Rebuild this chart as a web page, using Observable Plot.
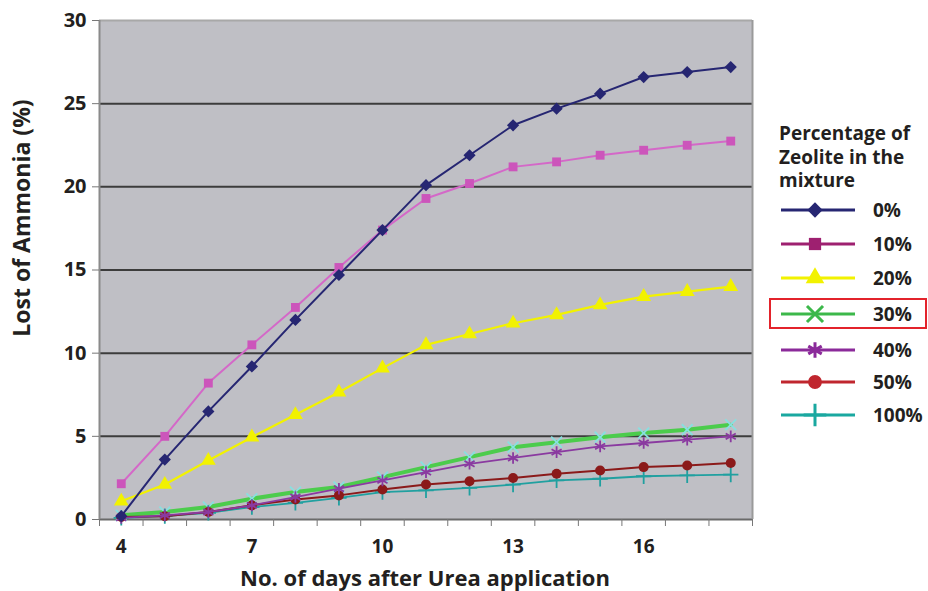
<!DOCTYPE html>
<html><head><meta charset="utf-8">
<script src="https://cdn.jsdelivr.net/npm/d3@7"></script>
<script src="https://cdn.jsdelivr.net/npm/@observablehq/plot@0.6"></script>
<style>body{margin:0;background:#fff;}</style>
</head><body><div id="chart"></div>
<script>
const days = [4,5,6,7,8,9,10,11,12,13,14,15,16,17,18];
const seriesNames = ["0%","10%","20%","30%","40%","50%","100%"];
const zeolite0   = [0.2,3.6,6.5,9.2,12.0,14.7,17.4,20.1,21.9,23.7,24.7,25.6,26.6,26.9,27.2];
const zeolite10  = [2.15,5.0,8.2,10.5,12.75,15.15,17.4,19.3,20.2,21.2,21.5,21.9,22.2,22.5,22.75];
const zeolite20  = [1.1,2.1,3.55,4.95,6.3,7.65,9.1,10.5,11.15,11.8,12.3,12.9,13.4,13.7,14.0];
const zeolite30  = [0.25,0.45,0.75,1.25,1.65,1.95,2.55,3.15,3.75,4.35,4.65,4.95,5.2,5.4,5.7];
const zeolite40  = [0.1,0.25,0.45,0.85,1.35,1.85,2.35,2.85,3.35,3.7,4.05,4.4,4.6,4.8,5.0];
const zeolite50  = [0.15,0.2,0.45,0.85,1.2,1.45,1.8,2.1,2.3,2.5,2.75,2.95,3.15,3.25,3.4];
const zeolite100 = [0.1,0.2,0.4,0.75,1.0,1.3,1.65,1.75,1.9,2.1,2.35,2.45,2.6,2.65,2.7];
const yTicks = [0,5,10,15,20,25,30];
const xTickLabels = [4,7,10,13,16];
const legendTitle = ["Percentage of","Zeolite in the","mixture"];
const xTitle = "No. of days after Urea application";
const yTitle = "Lost of Ammonia (%)";

const seriesValues = [zeolite0,zeolite10,zeolite20,zeolite30,zeolite40,zeolite50,zeolite100];
const styles = {
  "0%":   {line:"#262672", mark:"#262672", legend:"#262672", symbol:"diamond2", fill:true, width:2, r:5.5},
  "10%":  {line:"#d468c8", mark:"#cc55bb", legend:"#9e2070", symbol:"square", fill:true, width:2, r:5},
  "20%":  {line:"#f2f200", mark:"#f2f200", legend:"#f2f200", symbol:"triangle", fill:true, width:2.2, r:5.5},
  "30%":  {line:"#4ccc4c", mark:"#88e0e0", legend:"#3cb84a", symbol:"times", fill:false, width:4, r:5},
  "40%":  {line:"#8a3aa0", mark:"#8a3aa0", legend:"#8b2a9a", symbol:"asterisk", fill:false, width:1.8, r:5.5},
  "50%":  {line:"#8b1a1a", mark:"#8b1a1a", legend:"#c0262e", symbol:"circle", fill:true, width:2, r:5},
  "100%": {line:"#20a0a0", mark:"#20a0a0", legend:"#1aa8a0", symbol:"plus", fill:false, width:1.8, r:5}
};
const drawOrder = ["30%","100%","50%","40%","20%","10%","0%"];

const rows = [];
seriesNames.forEach((s,i) => days.forEach((d,j) => rows.push({series:s, day:d, value:seriesValues[i][j]})));
const boundaries = d3.range(3.5, 19, 1);

const marks = [
  Plot.frame({fill:"#bfbfc5", stroke:null}),
  Plot.ruleY([5,10,15,20,25], {stroke:"#3c3c3c", strokeWidth:2}),
  Plot.ruleY([0], {stroke:"#6a6a6a", strokeWidth:2}),
  Plot.ruleY([30], {stroke:"#a8a8a8", strokeWidth:2}),
  Plot.ruleX([3.5], {stroke:"#8a8a8a", strokeWidth:2}),
  Plot.ruleX([18.5], {stroke:"#9a9a9a", strokeWidth:2}),
  Plot.axisY({ticks:yTicks, tickSize:7, tickPadding:6, fontSize:20, fontWeight:"bold", label:null, stroke:"#777", fill:"#231f20"}),
  Plot.axisX({ticks:boundaries, tickSize:7, tickFormat:() => "", label:null, stroke:"#777"}),
  Plot.axisX({ticks:xTickLabels, tickSize:0, tickPadding:20, fontSize:19, fontWeight:"bold", label:null, fill:"#231f20"})
];
for (const s of drawOrder) {
  const st = styles[s];
  const data = rows.filter(r => r.series === s);
  marks.push(Plot.line(data, {x:"day", y:"value", stroke:st.line, strokeWidth:st.width}));
  marks.push(Plot.dot(data, st.fill
    ? {x:"day", y:"value", symbol:() => st.symbol, fill:st.mark, stroke:null, r:st.r}
    : {x:"day", y:"value", symbol:() => st.symbol, stroke:st.mark, strokeWidth:1.8, fill:"none", r:st.r}));
}

const chart = Plot.plot({
  width:928, height:591,
  marginLeft:99, marginRight:176, marginTop:20, marginBottom:72,
  style:{fontFamily:"'Open Sans', sans-serif", background:"#fff"},
  x:{domain:[3.5,18.5], axis:null},
  y:{domain:[0,30], axis:null},
  symbol:{type:"identity"},
  marks
});
document.getElementById("chart").appendChild(chart);

const svg = d3.select(chart);
const font = "'Open Sans', sans-serif";
svg.append("text").attr("x", 425).attr("y", 586).attr("text-anchor","middle")
  .attr("font-family", font).attr("font-size", 22).attr("font-weight","bold").attr("fill","#231f20").text(xTitle);
svg.append("text").attr("transform","translate(30,218) rotate(-90)").attr("text-anchor","middle")
  .attr("font-family", font).attr("font-size", 23).attr("font-weight","bold").attr("fill","#231f20").text(yTitle);

const lg = svg.append("g").attr("font-family", font).attr("font-weight","bold").attr("fill","#231f20").attr("text-anchor","start");
legendTitle.forEach((t,i) => lg.append("text").attr("x",779).attr("y",140 + i*23.5).attr("font-size",19).text(t));
const entryY = [210,244,278,314,350,382,415];
const symMap = {diamond2:d3.symbolDiamond2, square:d3.symbolSquare, triangle:d3.symbolTriangle, times:d3.symbolTimes, asterisk:d3.symbolAsterisk, circle:d3.symbolCircle, plus:d3.symbolPlus};
seriesNames.forEach((s,i) => {
  const st = styles[s], y = entryY[i];
  lg.append("line").attr("x1",781).attr("x2",855).attr("y1",y).attr("y2",y).attr("stroke",st.legend).attr("stroke-width",3);
  const path = d3.symbol(symMap[st.symbol], st.fill ? 150 : 170)();
  lg.append("path").attr("d",path).attr("transform",`translate(815,${y})`)
    .attr("fill", st.fill ? st.legend : "none").attr("stroke", st.fill ? "none" : st.legend).attr("stroke-width", 3);
  lg.append("text").attr("x",873).attr("y",y+7).attr("font-size",19).text(s);
});
svg.append("rect").attr("x",770).attr("y",299).attr("width",156).attr("height",29)
  .attr("fill","none").attr("stroke","#e3232b").attr("stroke-width",2);
</script></body></html>
